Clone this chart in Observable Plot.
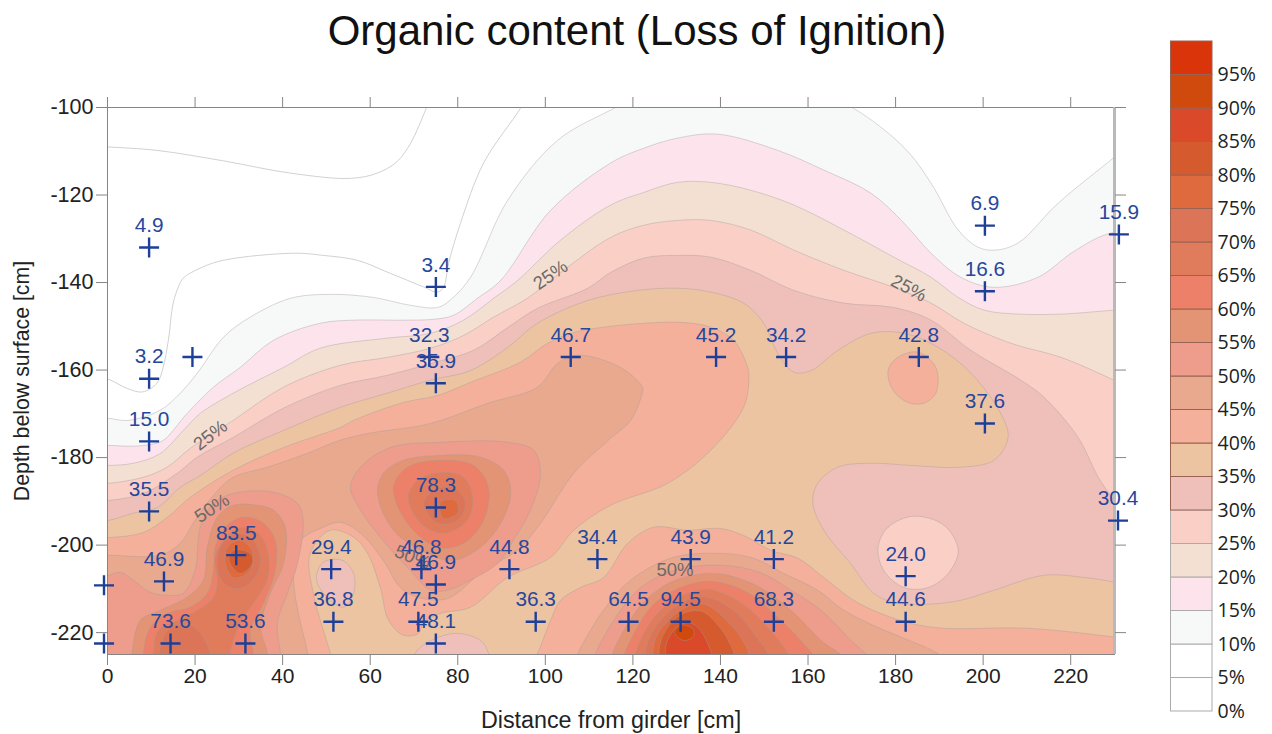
<!DOCTYPE html>
<html>
<head>
<meta charset="utf-8">
<script src="https://cdn.jsdelivr.net/npm/d3@7"></script>
<script src="https://cdn.jsdelivr.net/npm/@observablehq/plot@0.6"></script>
<style>
  html, body { margin: 0; padding: 0; background: #fff; }
  #page { position: relative; width: 1272px; height: 734px; overflow: hidden; font-family: "Liberation Sans", Arial, sans-serif; }
  #title { position: absolute; left: 1px; top: 8px; width: 1272px; text-align: center; font-size: 42px; line-height: 46px; color: #111; }
  #chart { position: absolute; left: 0; top: 0; }
  #legend { position: absolute; left: 1170px; top: 0; }
  svg { display: block; }
</style>
</head>
<body>
<div id="page">
  <div id="chart"></div>
  <div id="legend"></div>
  <div id="title">Organic content (Loss of Ignition)</div>
</div>
<script>
// Legend levels (lower bound of each 5 % band) and band colours
const levels = [0,5,10,15,20,25,30,35,40,45,50,55,60,65,70,75,80,85,90,95];
const levelColors = ["#ffffff","#ffffff","#f7f8f8","#fde4ec","#f4e0d2","#facfc6","#efc0ba","#ecc4a2","#f4b09a","#e8a98f","#ee9c8c","#e29474","#ec8068","#e07b5c","#dc7458","#df6a3e","#d55a2e","#d9492a","#cf4a0c","#d9340a"];

// Sample positions (cm) and measured values; "" = unlabelled
const sampleX = [9.5,75,200.4,231,200.4,9.5,19.4,73.5,75,105.8,139,155,185.3,9.5,200.4,9.5,75,230.8,29.4,51.1,71.7,91.8,111.9,133.2,152.2,75,12.9,182.3,-0.8,-0.8,51.6,71,97.8,119,130.9,152.2,182.3,14.4,31.5,75];
const sampleY = [-132,-141,-127,-129,-142,-162,-157,-157,-163,-157,-157,-157,-157,-176.3,-172.2,-192.3,-191.4,-194.4,-202.3,-205.5,-205.5,-205.5,-203.2,-203.2,-203.2,-209,-208.3,-207.1,-209.2,-222.5,-217.5,-217.5,-217.5,-217.5,-217.5,-217.5,-217.5,-222.5,-222.5,-222.5];
const sampleLabel = ["4.9","3.4","6.9","15.9","16.6","3.2","","32.3","35.9","46.7","45.2","34.2","42.8","15.0","37.6","35.5","78.3","30.4","83.5","29.4","46.8","44.8","34.4","43.9","41.2","46.9","46.9","24.0","","","36.8","47.5","36.3","64.5","94.5","68.3","44.6","73.6","53.6","48.1"];

// Inline contour labels
const contourLabelText = ["25%","25%","25%","50%","50%","50%"];
const contourLabelX = [101.2,183,23.5,23.9,69.7,129.6];
const contourLabelY = [-138.3,-141.3,-174.9,-191.6,-202.8,-205.8];
const contourLabelAngle = [-35,28,-38,-33,22,0];

// Axis ticks and titles
const xTicks = [0,20,40,60,80,100,120,140,160,180,200,220];
const yTicks = [-100,-120,-140,-160,-180,-200,-220];
const xTitle = "Distance from girder [cm]";
const yTitle = "Depth below surface [cm]";

// Contour lines, [distance cm, depth cm]
const line5a = [[-3,-108.8],[0,-109],[11.3,-109.8],[26.5,-112.2],[41.8,-115],[55.5,-116.2],[61.6,-115],[66.1,-112.4],[69.2,-108.2],[72.8,-100.2],[74,-97]];
const line5b = [[-3,-161.5],[0,-162],[4.5,-164.2],[8,-165],[11.3,-163],[12.7,-159.4],[13.9,-153.2],[15,-144.7],[16.2,-141],[17.3,-139],[21.2,-136.7],[26.5,-134.9],[42.5,-133.3],[49.3,-133.8],[57,-134.9],[64.6,-137.9],[72.2,-141],[75.4,-142.2],[76.8,-141],[77.9,-135.6],[80.6,-126.5],[85.9,-112.7],[94.3,-100.2],[96,-97]];

const contour10 = [[-4,-171],[0,-171],[4.7,-171.5],[12,-169.2],[16.6,-165.3],[20.5,-160.7],[26.5,-152.5],[32.6,-147.9],[41.8,-143.6],[50.9,-142.7],[60.7,-143.4],[69.2,-145.2],[75.4,-145.7],[78.3,-144],[82.9,-138.8],[91.4,-121.2],[102.8,-107.5],[114.9,-100.6],[121.8,-97.2],[142.3,-94.9],[162.9,-97.2],[170.4,-100.2],[181.9,-109.1],[188.1,-117.3],[194.3,-128],[198.8,-131.9],[202.5,-132.6],[207.9,-131],[217.1,-121.9],[229.9,-111.4],[236,-106.3],[245,-240],[-15,-240]];
const contour15 = [[-4,-177.2],[0,-177.2],[5.9,-177.4],[9.8,-177],[12.7,-176.1],[18.2,-169.9],[24.2,-163.9],[30.3,-159.4],[37.9,-153.2],[48.6,-149.3],[56.2,-148.6],[67.6,-148.6],[74.5,-148.4],[79,-147.5],[84.5,-143.6],[89.8,-139.5],[101.2,-123.5],[114.9,-112.7],[122.5,-109.3],[130.2,-107],[139.4,-106.1],[153.1,-109.8],[163.6,-114.3],[174.4,-119.6],[181.9,-126.4],[188.1,-133.3],[194.9,-138.8],[202.5,-141.1],[212.5,-138.8],[220.1,-133.3],[226.3,-129.7],[229.9,-128.5],[234.9,-126.9],[245,-240],[-15,-240]];
const contour20 = [[-4,-181.8],[0,-181.8],[5.9,-181.3],[12,-179.1],[17.3,-173.8],[21.2,-169.9],[28.7,-165.3],[40.2,-159.4],[48.6,-155],[63.9,-152.7],[73.8,-151.6],[81.3,-148.6],[88.2,-143.6],[93.7,-139.5],[103.5,-130.3],[114.9,-122.3],[122.5,-119.4],[130.2,-117.1],[137.8,-117.1],[146.9,-118.9],[156.8,-122.3],[168.2,-128],[179.6,-134.2],[188.1,-138.8],[194.3,-143.4],[200.2,-146.3],[208,-147.2],[217.8,-147.2],[229.9,-146.3],[234.9,-145.9],[245,-240],[-15,-240]];
const contour25 = [[-4,-185.9],[0,-185.9],[8.2,-184.5],[13.6,-182.2],[18.9,-177.9],[28.7,-171.5],[40.2,-163.9],[53.2,-158.9],[63.9,-157.1],[73.8,-155],[81.3,-152.1],[88.2,-147.9],[95.9,-143.6],[103.5,-137.7],[114.9,-129.7],[122.5,-126.9],[130.2,-125.8],[137.8,-125.8],[146.9,-128],[156.8,-132.6],[168.2,-137.2],[179.6,-141.1],[188.1,-144.7],[195.6,-149.3],[206.4,-153.9],[217.8,-157.1],[229.9,-162.3],[234.9,-164.6],[245,-240],[-15,-240]];
const contour30 = [[-4,-189.8],[0,-189.8],[8.2,-188.2],[15.9,-183.6],[20.5,-179.9],[28.7,-175.4],[40.2,-168.7],[53.2,-163.5],[63.9,-161.2],[73.8,-158.5],[83.6,-155.5],[91.4,-150.3],[98.2,-145.9],[109.7,-141.3],[114.9,-137.7],[122.5,-134.4],[130.2,-133.8],[137.8,-134.2],[146.9,-137.2],[156.8,-141.8],[168.2,-144.7],[179.6,-145.7],[188.1,-148.6],[197.2,-155.5],[208.6,-162.3],[213.9,-166.2],[221.7,-175.4],[226.3,-184.5],[229.9,-189.8],[234.9,-196.6],[245,-240],[-15,-240]];
const contour35 = [[-4,-194.4],[0,-194.4],[5.9,-192.7],[11.4,-191.4],[16.6,-186.8],[21.2,-184.1],[28.7,-179],[40.2,-173.8],[53.2,-168.5],[63.9,-165.3],[73.8,-162.3],[82.9,-160.1],[91.4,-154.8],[98.2,-149.3],[109.7,-144.1],[121.1,-141.8],[130.2,-141.3],[137.8,-142.2],[145.3,-144.7],[149.9,-149.3],[153.1,-156.2],[156.8,-160.5],[160.7,-160.1],[166.8,-155.5],[174.4,-151.6],[181.9,-151.6],[189.7,-154.8],[197.2,-160.7],[204,-169.9],[205.7,-175.4],[202.5,-180.6],[194.9,-182.2],[183.5,-181.8],[174.4,-181.3],[166.8,-182.2],[162.2,-185.9],[161.1,-190.4],[163.6,-196.6],[169.7,-204.2],[175,-211],[179.6,-213.1],[187.4,-213.5],[194.9,-212.6],[202.5,-210.3],[213.9,-206.9],[223,-207.4],[229.9,-208.5],[234.9,-210.3],[245,-240],[-15,-240]];
const hole25at24 = [[176,-200.5],[178.3,-195.9],[184.2,-193.4],[191.1,-195.5],[194.3,-201.2],[192,-206.5],[187.4,-209.7],[181.9,-209.7],[177.3,-205.8]];
const contour40a = [[-4,-198.3],[0,-198.3],[8.2,-197.1],[13.6,-193.7],[18.9,-189.1],[28.7,-182.9],[40.2,-177.7],[53.2,-173.1],[56.2,-171.5],[67.6,-167.4],[75.4,-165.8],[82.9,-162.8],[94.3,-158.2],[100.5,-153.9],[106.5,-151.4],[113.3,-150.2],[122.5,-149.3],[130.9,-149.1],[137.8,-150.2],[143,-153.2],[146.2,-159.4],[146.5,-162.3],[145.3,-168.5],[137.8,-178.3],[127.9,-185.9],[114.9,-190.9],[106.5,-196.6],[101.2,-202.8],[91.4,-207.4],[82.9,-214.2],[76.1,-215.6],[72.2,-217.7],[71,-220.2],[67.6,-220.6],[64.2,-217.2],[62.3,-209.7],[59.4,-201.9],[56.2,-198.2],[50.9,-196.6],[46.3,-201.9],[47,-211],[50.9,-224.8],[52,-229.8],[45,-236],[-10,-236]];
const contour40b = [[95.5,-229.8],[98.2,-224.8],[101.2,-217.2],[103.5,-212.6],[108,-209.7],[113.3,-207.4],[118.8,-199.6],[124.8,-195.9],[132.5,-196.6],[140,-196.2],[145.3,-197.8],[151.5,-201.2],[157.7,-203],[163.6,-207.4],[170.4,-212.6],[176.6,-215.6],[183.5,-217.9],[191,-219],[210.2,-219],[229.9,-221],[234.9,-221.7],[245,-236],[100,-236]];
const contour40c = [[178.3,-160],[180.5,-157.1],[185.1,-155.9],[189.2,-159.4],[189.2,-165.3],[186.4,-167.6],[182.8,-167.4],[179.4,-164.6]];
const hole30a = [[49.3,-203.9],[53.7,-203.5],[56.2,-206.5],[56.2,-211],[53.9,-214.2],[49.3,-211],[47.7,-207.4]];
const hole30b = [[69.3,-229.8],[70.8,-224],[79,-220.2],[85.2,-221.8],[87,-224.7],[87.5,-229.8],[78,-234]];
const contour45a = [[-4,-202.3],[0.2,-202.3],[12,-202.3],[16.6,-199.6],[20,-194.3],[24.6,-188.2],[28.7,-184.5],[36.5,-182.2],[45.7,-179],[53.2,-176],[60,-174.4],[73.8,-172.2],[86.8,-167.6],[98.2,-163.9],[102.8,-158.5],[107.4,-156.6],[117.2,-159.4],[122.2,-163.9],[122.2,-165],[119.5,-171.5],[114.9,-175.6],[106.5,-183.6],[98.9,-195],[93.6,-201.2],[85.9,-205.8],[77.7,-212.2],[70.8,-211.9],[66.9,-209.7],[63,-203.5],[57.8,-197.3],[53.2,-194.8],[49.3,-195.9],[43.4,-199.6],[42.5,-208],[43.6,-215.6],[45.7,-224.7],[46.3,-229.8],[40,-236],[-10,-236]];
const contour45b = [[106.7,-229.8],[107.4,-225],[110.3,-219.5],[113.3,-214.9],[119.5,-208],[129.3,-202.8],[140,-201.9],[147.6,-203],[154.5,-206.5],[162.2,-210.3],[168.2,-214.9],[175.9,-218.8],[181.2,-221],[190.3,-225.2],[194.9,-229.8],[150,-236]];
const contour50a = [[-4,-206.9],[0.2,-206.9],[2.9,-206.2],[5.9,-208],[9.8,-210.8],[14.3,-211.5],[17.3,-211],[20,-205.8],[21.2,-195.9],[24.2,-190.5],[28.7,-188.2],[37.9,-187.9],[43.4,-190.5],[44.7,-194.3],[43.4,-204.2],[41.1,-211],[38.8,-217.9],[39.5,-224.7],[39.9,-229.8],[35,-236],[-10,-236]];
const contour50b = [[55.5,-186.8],[57.8,-182.2],[64.6,-177.7],[76.1,-176.5],[91.4,-176.5],[97.3,-178.3],[98.9,-183.6],[96.6,-192],[92.7,-198.9],[89.1,-204.2],[82.9,-208],[77.7,-210.3],[73.8,-210.3],[69.2,-205.8],[62.3,-198.2],[57.8,-192]];
const contour50c = [[111,-226.4],[114.9,-218.4],[121.1,-210.3],[129.3,-205.8],[140,-204.6],[149.2,-206.3],[156.1,-210.3],[163,-214.9],[169.8,-221.8],[174.4,-226.4],[175,-232],[111,-232]];
const contour55a = [[5.2,-229.8],[5.6,-224.7],[7.5,-217.2],[12,-214.9],[18.2,-211.9],[21.9,-208],[22.8,-200.5],[25.1,-193.6],[28.7,-190.9],[34.2,-190.9],[37.9,-192],[40.6,-195.9],[40.2,-204.2],[37.2,-211],[35,-218.8],[36.5,-224.7],[36.5,-229.8],[20,-234]];
const contour55b = [[61.7,-188.2],[63,-183.6],[67.6,-180.6],[76.1,-179.5],[85.2,-179.9],[90.5,-182.9],[92.1,-188.2],[89.8,-195],[85.2,-200.5],[79,-203.5],[73.1,-201.9],[65.3,-196.6]];
const contour55c = [[114.9,-226.4],[117.7,-219.9],[122.9,-212.6],[129.8,-208],[138.9,-206.5],[148.1,-209.2],[156.1,-214.9],[163,-221.8],[168.6,-226.4],[168,-232],[115,-232]];
const contour60a = [[8.2,-229.8],[8.2,-224.7],[9.8,-218.8],[13.6,-215.6],[18.9,-214.2],[22.8,-211],[24.2,-205.8],[24.6,-200.5],[26.9,-195.9],[31,-193.6],[35.6,-195],[38.3,-198.9],[38.3,-205.8],[35.6,-213.3],[32.6,-219.5],[33.3,-224.7],[33.3,-229.8],[20,-234]];
const contour60b = [[65.3,-186.8],[68.5,-182.2],[76.1,-180.6],[83.6,-181.8],[87,-186.8],[85.9,-194.3],[81.3,-199.6],[75.4,-200.5],[68.5,-195]];
const contour60c = [[117.7,-226.4],[120,-220.7],[124.5,-213.8],[130.9,-209.7],[138.2,-208.3],[146.5,-211],[153.8,-217.2],[158.3,-221.8],[161.8,-226.4],[161,-232],[118,-232]];
const contour65a = [[10.5,-229.8],[10.5,-224.7],[11.6,-219.5],[15.9,-217.2],[20.5,-214.9],[24.2,-211.9],[25.1,-208],[24.6,-202.8],[27.4,-197.8],[31,-195.9],[34.9,-197.8],[36.7,-201.9],[36.5,-208],[33.3,-213.3],[30.3,-217.9],[28,-224.7],[28,-229.8],[19,-234]];
const contour65b = [[68.7,-189.1],[70.8,-185.2],[76.1,-183.4],[81.3,-184.5],[83.4,-189.1],[82.2,-194.3],[76.7,-197.3],[71.5,-195]];
const contour65c = [[120.2,-226.4],[122.2,-220.7],[126.3,-214.9],[131.8,-211.3],[137.3,-210.1],[144.6,-213.1],[151,-219],[156.1,-226.4],[156,-232],[120,-232]];
const contour70a = [[25.1,-204.2],[26.2,-199.6],[29.7,-197.3],[33.3,-198.9],[34.9,-202.8],[34.2,-206.5],[31,-209.7],[28,-209.7],[25.8,-207.6]];
const contour70b = [[12,-229.8],[12.5,-221.8],[14.3,-219],[18.9,-218.3],[22.3,-221.8],[23.9,-229.8],[18,-233]];
const contour70c = [[72.2,-190.5],[74.5,-187.5],[79,-186.8],[81.8,-190.5],[80,-194.3],[75.4,-195]];
const contour70d = [[122.5,-226.4],[124,-220.7],[127.5,-215.9],[132.3,-212.6],[136.9,-211.9],[143,-214.9],[148,-220.7],[151.5,-226.4],[151,-232],[123,-232]];
const contour75a = [[26.9,-204.2],[27.4,-200.5],[29.9,-198.9],[32.6,-200.5],[33.3,-203.5],[31.9,-206.5],[28.7,-207.4]];
const contour75b = [[76.1,-190.2],[79.5,-189.8],[80,-192.7],[76.7,-193.9]];
const contour75c = [[124.5,-226.4],[125.2,-221.3],[128.6,-216.7],[132.7,-214],[136.4,-213.5],[141.4,-217.2],[145.1,-221.8],[146.9,-226.4],[146,-232],[125,-232]];
const contour80a = [[27.8,-203.6],[28.7,-201.2],[32.6,-201.9],[33.1,-204.2],[30.3,-206.5]];
const contour80b = [[125.9,-226.4],[126.4,-221.8],[129.3,-217.2],[132.7,-215.2],[135.9,-215.2],[140,-219],[142.3,-222.8],[143.5,-226.4],[143,-232],[126,-232]];
const contour85 = [[127.5,-226.4],[127.7,-222.3],[130.2,-218.6],[132.7,-217.7],[135,-219],[137,-222.3],[138.4,-226.4],[138,-232],[128,-232]];
const contour90 = [[129.5,-220],[130.9,-218.3],[133.6,-219],[133.9,-220.8],[131.6,-221.8]];

// Painting order: each entry is [band lower bound, contour polygon]
const regions = [
  [10,contour10],[15,contour15],[20,contour20],[25,contour25],[30,contour30],[35,contour35],[25,hole25at24],
  [40,contour40a],[40,contour40b],[40,contour40c],[30,hole30a],[30,hole30b],
  [45,contour45a],[45,contour45b],[50,contour50a],[50,contour50b],[50,contour50c],
  [55,contour55a],[55,contour55b],[55,contour55c],[60,contour60a],[60,contour60b],[60,contour60c],
  [65,contour65a],[65,contour65b],[65,contour65c],[70,contour70a],[70,contour70b],[70,contour70c],[70,contour70d],
  [75,contour75a],[75,contour75b],[75,contour75c],[80,contour80a],[80,contour80b],[85,contour85],[90,contour90]
];

const regionRows = regions.flatMap(([level, pts], id) => pts.map(([x, y]) => ({id, level, x, y})));
const openRows = [line5a, line5b].flatMap((pts, id) => pts.map(([x, y]) => ({id, x, y})));
const samples = sampleX.map((x, i) => ({x, y: sampleY[i], label: sampleLabel[i]}));
const contourLabels = contourLabelText.map((text, i) => ({text, x: contourLabelX[i], y: contourLabelY[i], angle: contourLabelAngle[i]}));

const axisGray = "#858585", textDark = "#222222", blue = "#1d3f98";

const chart = Plot.plot({
  width: 1272, height: 734,
  marginTop: 107, marginBottom: 80, marginLeft: 107, marginRight: 158,
  style: {fontFamily: "'Liberation Sans', Arial, sans-serif", background: "transparent"},
  x: {domain: [0, 230]},
  y: {domain: [-225, -100]},
  color: {type: "ordinal", domain: levels, range: levelColors},
  marks: [
    Plot.line(openRows, {x: "x", y: "y", z: "id", curve: "catmull-rom", stroke: "#cccccc", strokeWidth: 0.9, clip: "frame"}),
    Plot.line(regionRows, {x: "x", y: "y", z: "id", fill: "level", curve: "catmull-rom-closed", stroke: "#a59a98", strokeOpacity: 0.5, strokeWidth: 0.8, clip: "frame"}),
    Plot.frame({stroke: axisGray, strokeWidth: 1}),
    Plot.ruleX([230], {stroke: "#b9b9b9", strokeWidth: 3}),
    Plot.axisX({anchor: "bottom", ticks: xTicks, tickSize: 11, tickPadding: 3, fontSize: 21, stroke: axisGray, fill: textDark, label: null, tickFormat: d => String(d)}),
    Plot.axisX({anchor: "top", ticks: xTicks, tickSize: 11, stroke: axisGray, label: null, tickFormat: () => ""}),
    Plot.axisY({anchor: "left", ticks: yTicks, tickSize: 11, tickPadding: 3, fontSize: 21.5, stroke: axisGray, fill: textDark, label: null, tickFormat: d => String(d)}),
    Plot.axisY({anchor: "right", ticks: yTicks, tickSize: 11, stroke: axisGray, label: null, tickFormat: () => ""}),
    Plot.text([xTitle], {frameAnchor: "bottom", dy: 73, fontSize: 23.3, fill: textDark}),
    Plot.text([yTitle], {frameAnchor: "left", textAnchor: "middle", dx: -85, rotate: -90, fontSize: 21.3, fill: textDark}),
    Plot.text(contourLabels, {x: "x", y: "y", text: "text", rotate: "angle", fontSize: 18.5, fill: "#6d6a68"}),
    Plot.dot(samples, {x: "x", y: "y", symbol: "plus", r: 6.5, stroke: blue, strokeWidth: 2.4}),
    Plot.text(samples.filter(d => d.label !== ""), {x: "x", y: "y", text: "label", dy: -22, fontSize: 20.8, fill: "#27479c"})
  ]
});
document.getElementById("chart").appendChild(chart);

const legendBand = (data, border) => Plot.rect(data, {x1: 0, x2: 1, y1: d => d, y2: d => d + 5, fill: d => d, stroke: border, strokeWidth: 1});
const legend = Plot.plot({
  width: 102, height: 734,
  marginTop: 41, marginBottom: 23, marginLeft: 0.5, marginRight: 60,
  style: {fontFamily: "'Open Sans', sans-serif", background: "transparent"},
  x: {domain: [0, 1], axis: null},
  y: {domain: [0, 100], axis: null},
  color: {type: "ordinal", domain: levels, range: levelColors},
  marks: [
    legendBand(levels.filter(d => d < 30), "#ababab"),
    legendBand(levels.filter(d => d >= 30), "#9a6252"),
    Plot.axisY({anchor: "right", ticks: levels, tickSize: 0, tickPadding: 5, fontSize: 19.5, fill: textDark, label: null, tickFormat: d => d + "%"})
  ]
});
document.getElementById("legend").appendChild(legend);
</script>
</body>
</html>
